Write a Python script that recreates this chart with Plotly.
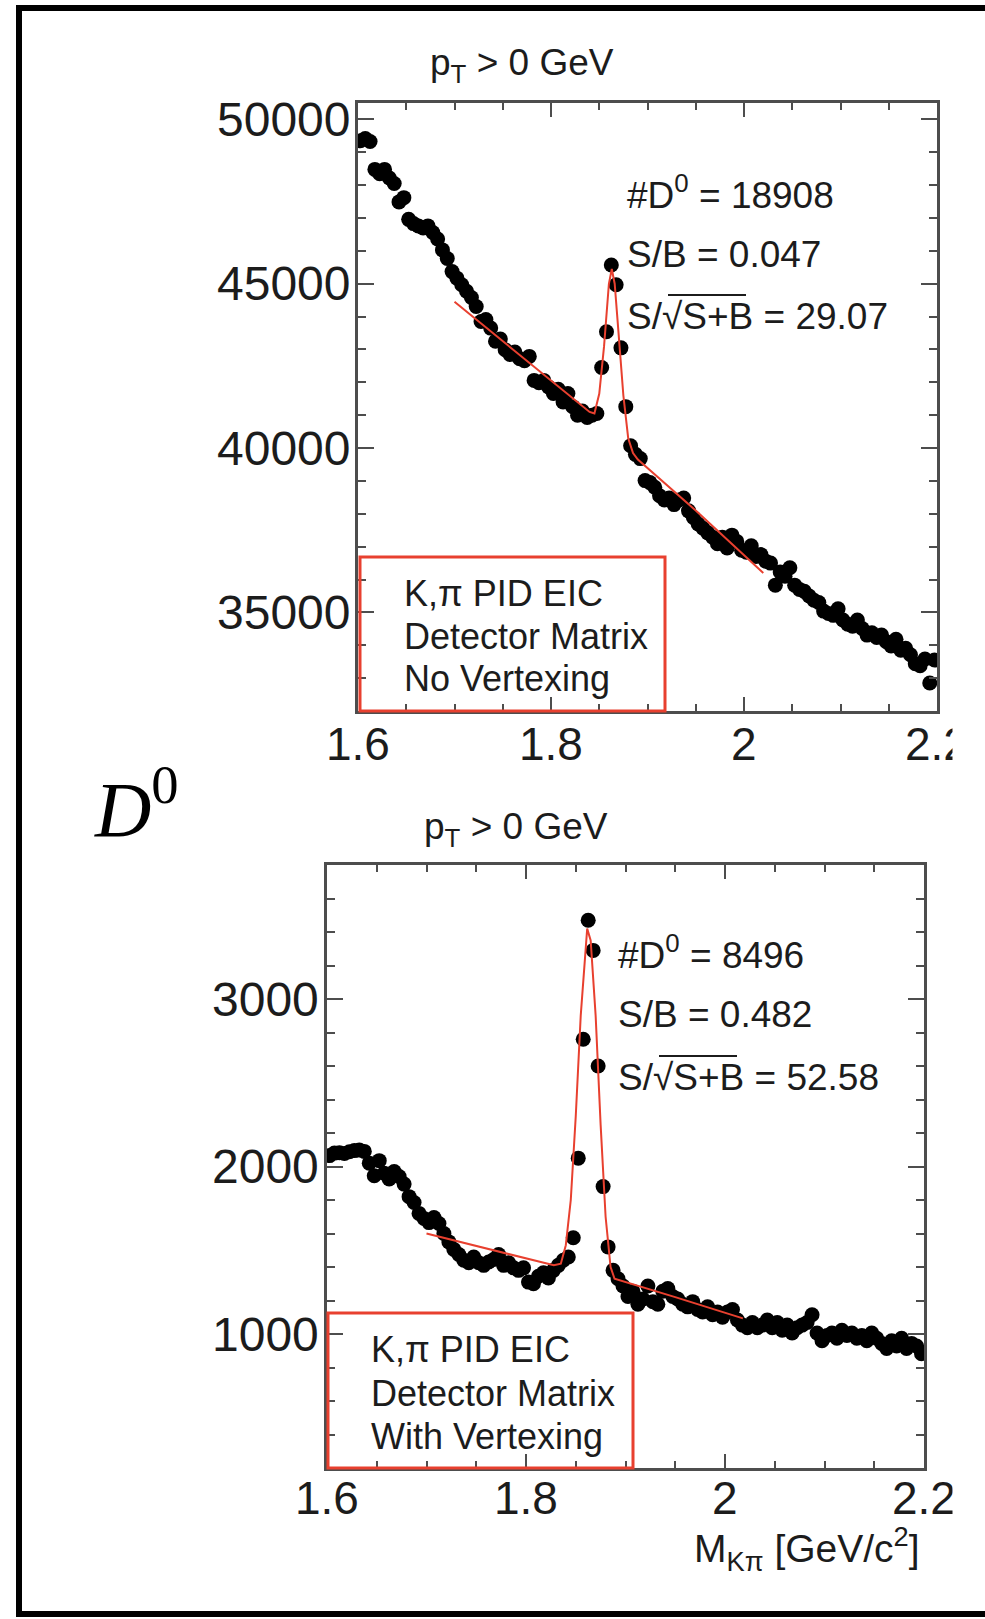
import plotly.graph_objects as go

# ---- histogram binning: 120 bins of 5 MeV between 1.6 and 2.2 GeV/c^2 ----
BIN_LO, BIN_W, N_BINS = 1.6, 0.005, 120
mass = [round(BIN_LO + BIN_W * (i + 0.5), 4) for i in range(N_BINS)]

# ---- K-pi invariant mass, no vertexing (counts per bin) ----
counts_novtx = [
    49350, 49420, 49330, 48480, 48350, 48480, 48220, 48050, 47490, 47620,
    46960, 46830, 46760, 46700, 46760, 46560, 46360, 46030, 45770, 45370,
    45170, 44970, 44770, 44580, 44310, 43850, 43910, 43650, 43250, 43320,
    42990, 42850, 42920, 42720, 42660, 42790, 42060, 41990, 42060, 41860,
    41660, 41790, 41400, 41660, 41260, 41000, 41130, 40930, 41000, 41050,
    42450, 43540, 45570, 44970, 43050, 41260, 40070, 39810, 39680, 39010,
    38950, 38810, 38550, 38420, 38480, 38280, 38420, 38480, 38090, 37890,
    37690, 37560, 37420, 37290, 37090, 37290, 36960, 37350, 37160, 36890,
    36830, 37030, 36700, 36760, 36560, 36500, 35830, 36230, 36100, 36360,
    35830, 35700, 35640, 35500, 35370, 35300, 35040, 34970, 34910, 35110,
    34770, 34640, 34580, 34770, 34510, 34310, 34380, 34240, 34310, 34110,
    33980, 34180, 33850, 33910, 33710, 33440, 33380, 33580, 32850, 33550,
]

# ---- K-pi invariant mass, with vertexing (counts per bin) ----
counts_vtx = [
    2065, 2080, 2082, 2078, 2088, 2095, 2098, 2090, 2020, 1945,
    2035, 1960, 1925, 1970, 1940, 1895, 1820, 1785, 1720, 1690,
    1665, 1695, 1660, 1600, 1550, 1505, 1475, 1440, 1425, 1460,
    1425, 1410, 1430, 1445, 1475, 1410, 1425, 1395, 1380, 1395,
    1310, 1300, 1345, 1365, 1335, 1380, 1410, 1440, 1460, 1575,
    2050, 2760, 3470, 3290, 2600, 1880, 1520, 1380, 1330, 1287,
    1224, 1255, 1178, 1209, 1287, 1193, 1178, 1255, 1271, 1224,
    1209, 1178, 1162, 1193, 1146, 1131, 1162, 1115, 1131, 1100,
    1131, 1146, 1084, 1053, 1037, 1069, 1037, 1053, 1084, 1037,
    1069, 1022, 1053, 1006, 1037, 1053, 1069, 1115, 1006, 960,
    991, 1006, 975, 1022, 991, 1006, 975, 991, 960, 1006,
    975, 944, 913, 960, 928, 975, 913, 944, 928, 882,
]

# ---- fitted signal + background curves (sampled) ----
fit_novtx_m = [1.700, 1.750, 1.800, 1.840, 1.845, 1.850, 1.855, 1.860, 1.863,
               1.866, 1.870, 1.875, 1.880, 1.885, 1.890, 1.950, 2.020]
fit_novtx_y = [44450, 43250, 42050, 41100, 41050, 41650, 43100, 45000, 45450,
               45000, 43500, 41600, 40300, 39850, 39650, 38100, 36200]

fit_vtx_m = [1.700, 1.760, 1.828, 1.835, 1.840, 1.845, 1.850, 1.855, 1.8615,
             1.865, 1.870, 1.875, 1.880, 1.885, 1.889, 1.950, 2.018]
fit_vtx_y = [1600, 1510, 1410, 1420, 1530, 1800, 2300, 2900, 3420,
             3350, 2900, 2250, 1700, 1400, 1330, 1220, 1093]

# ---- axis ticks ----
x_ticks = [1.6, 1.8, 2.0, 2.2]
x_ticktext = ["1.6", "1.8", "2", "2.2"]
y_ticks_novtx = [35000, 40000, 45000, 50000]
y_ticks_vtx = [1000, 2000, 3000]

# ---- fit results shown on each panel ----
stats_novtx = ["#D<sup>0</sup> = 18908", "S/B = 0.047", "S/√S+B = 29.07"]
stats_vtx = ["#D<sup>0</sup> = 8496", "S/B = 0.482", "S/√S+B = 52.58"]
label_novtx = ["K,π PID EIC", "Detector Matrix", "No Vertexing"]
label_vtx = ["K,π PID EIC", "Detector Matrix", "With Vertexing"]

W, H = 985, 1619
RED = "#e8402f"
AXC = "#4d4d4d"
TXT = "#1c1c1c"
SANS = "Liberation Sans, Arial, sans-serif"


def fx(p):
    return p / W


def fy(p):
    return 1 - p / H


fig = go.Figure()

marker = dict(color="black", size=15, line=dict(width=0))
fig.add_trace(go.Scatter(x=mass, y=counts_novtx, mode="markers", marker=marker,
                         xaxis="x", yaxis="y", showlegend=False))
fig.add_trace(go.Scatter(x=fit_novtx_m, y=fit_novtx_y, mode="lines",
                         line=dict(color=RED, width=2),
                         xaxis="x", yaxis="y", showlegend=False))
fig.add_trace(go.Scatter(x=mass, y=counts_vtx, mode="markers", marker=marker,
                         xaxis="x2", yaxis="y2", showlegend=False))
fig.add_trace(go.Scatter(x=fit_vtx_m, y=fit_vtx_y, mode="lines",
                         line=dict(color=RED, width=2),
                         xaxis="x2", yaxis="y2", showlegend=False))

axis_common = dict(showline=True, linecolor=AXC, linewidth=2.5, mirror="allticks",
                   ticks="inside", tickcolor=AXC, tickwidth=2, showgrid=False,
                   zeroline=False, showticklabels=False)

xminor = dict(dtick=0.05, tick0=1.6, ticklen=7, ticks="inside", tickcolor=AXC,
              tickwidth=2, showgrid=False)

fig.update_layout(
    width=W, height=H,
    margin=dict(l=0, r=0, t=0, b=0),
    paper_bgcolor="white", plot_bgcolor="white",
    xaxis=dict(axis_common, domain=[fx(358), fx(937)], range=[1.6, 2.2],
               tickvals=x_ticks, ticklen=14, minor=xminor, anchor="y"),
    yaxis=dict(axis_common, domain=[fy(711), fy(103)], range=[32000, 50500],
               tickvals=y_ticks_novtx, ticklen=16,
               minor=dict(dtick=1000, ticklen=8, ticks="inside", tickcolor=AXC,
                          tickwidth=2, showgrid=False),
               anchor="x"),
    xaxis2=dict(axis_common, domain=[fx(327), fx(924)], range=[1.6, 2.2],
                tickvals=x_ticks, ticklen=14, minor=xminor, anchor="y2"),
    yaxis2=dict(axis_common, domain=[fy(1468), fy(865)], range=[200, 3800],
                tickvals=y_ticks_vtx, ticklen=16,
                minor=dict(dtick=200, ticklen=8, ticks="inside", tickcolor=AXC,
                           tickwidth=2, showgrid=False),
                anchor="x2"),
)

ann = []


def text(s, x, y, size, xanchor="left", family=SANS, color=TXT):
    ann.append(dict(text=s, x=fx(x), y=fy(y), xref="paper", yref="paper",
                    xanchor=xanchor, yanchor="middle", showarrow=False,
                    font=dict(family=family, size=size, color=color)))


# tick labels on the axis scales
for xref, ypix in (("x", 744), ("x2", 1498)):
    for v, s in zip(x_ticks, x_ticktext):
        ann.append(dict(text=s, x=v, xref=xref, y=fy(ypix), yref="paper",
                        xanchor="center", yanchor="middle", showarrow=False,
                        font=dict(family=SANS, size=46, color=TXT)))
for yref, xpix, vals in (("y", 352, y_ticks_novtx), ("y2", 321, y_ticks_vtx)):
    for v in vals:
        ann.append(dict(text=str(v), x=fx(xpix), xref="paper", y=v, yref=yref,
                        xanchor="right", yanchor="middle", showarrow=False,
                        font=dict(family=SANS, size=48, color=TXT)))

# page edge trims the last mass labels
for ypix in (744, 1498):
    ann.append(dict(text=" ", x=fx(952), xref="paper", y=fy(ypix), yref="paper",
                    xanchor="left", yanchor="middle", showarrow=False,
                    width=40, height=64, bgcolor="white", borderpad=0,
                    font=dict(size=10)))

# panel titles
text("p<sub>T</sub> &gt; 0 GeV", 522, 65, 37, "center")
text("p<sub>T</sub> &gt; 0 GeV", 516, 829, 37, "center")

# fit statistics
for s, yy in zip(stats_novtx, [192, 254, 316]):
    text(s, 625, yy, 37)
for s, yy in zip(stats_vtx, [952, 1015, 1077]):
    text(s, 616, yy, 37)

# detector configuration boxes
for s, yy in zip(label_novtx, [594, 636, 678]):
    text(s, 402, yy, 36)
for s, yy in zip(label_vtx, [1349, 1393, 1436]):
    text(s, 369, yy, 36)

# axis title and particle label
text("M<sub>Kπ</sub> [GeV/c<sup>2</sup>]", 922, 1549, 39, "right")
text("<i>D</i><sup>0</sup>", 136, 803, 78, "center",
     family="Liberation Serif, Times New Roman, serif", color="black")

fig.update_layout(annotations=ann)


def hline(x0, x1, y, color, width):
    return dict(type="line", xref="paper", yref="paper", x0=fx(x0), x1=fx(x1),
                y0=fy(y), y1=fy(y), line=dict(color=color, width=width))


def vline(x, y0, y1, color, width):
    return dict(type="line", xref="paper", yref="paper", x0=fx(x), x1=fx(x),
                y0=fy(y0), y1=fy(y1), line=dict(color=color, width=width))


shapes = [
    # outer frame (open on the right)
    hline(16, W, 8, "black", 6),
    hline(16, W, 1614, "black", 6),
    vline(19, 5, 1617, "black", 6),
    # legend boxes
    dict(type="rect", xref="paper", yref="paper", x0=fx(360), x1=fx(665),
         y0=fy(711), y1=fy(557), line=dict(color=RED, width=3)),
    dict(type="rect", xref="paper", yref="paper", x0=fx(328), x1=fx(633),
         y0=fy(1468), y1=fy(1313), line=dict(color=RED, width=3)),
    # square-root bars
    hline(668, 746, 295, TXT, 2),
    hline(659, 737, 1056, TXT, 2),
]
fig.update_layout(shapes=shapes)

fig.write_html("out.html")
